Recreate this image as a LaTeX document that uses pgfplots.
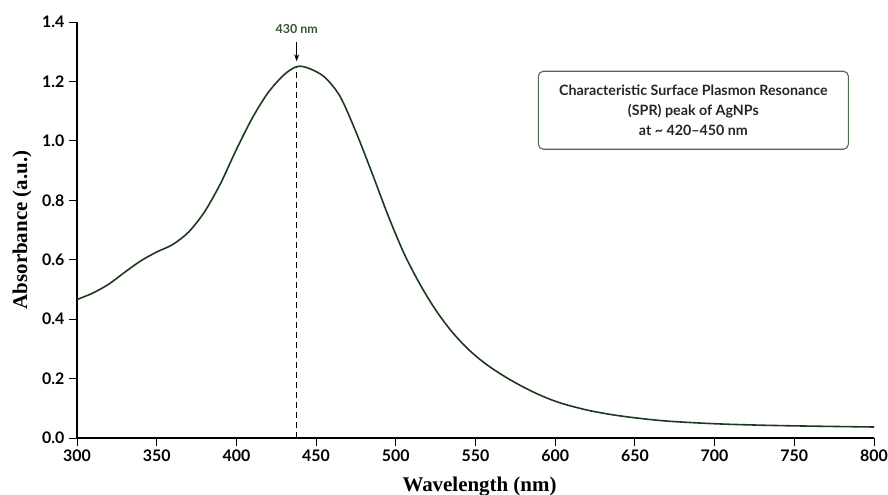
\documentclass[border=0pt]{standalone}
\usepackage{fontspec}
\setmainfont{Liberation Serif}
\newfontfamily\tickfont{Lato}
\usepackage{pgfplots}
\pgfplotsset{compat=1.18}
\usetikzlibrary{arrows.meta}
\definecolor{curveGreen}{HTML}{1B3A1B}
\definecolor{peakGreen}{HTML}{2F5A2F}
\definecolor{boxGreen}{HTML}{4D6B4D}

\pgfplotstableread{
wl abs
300 0.466
310 0.488
320 0.518
330 0.558
340 0.596
350 0.626
360 0.651
370 0.693
380 0.761
390 0.856
400 0.971
410 1.077
420 1.163
430 1.223
438 1.250
445 1.245
455 1.216
465 1.150
475 1.030
485 0.893
495 0.751
505 0.623
515 0.519
525 0.431
535 0.359
545 0.301
555 0.255
565 0.218
575 0.186
585 0.158
595 0.134
605 0.115
620 0.094
635 0.079
650 0.068
670 0.057
700 0.048
730 0.043
760 0.040
800 0.037
}\spectrum

\begin{document}
\begin{tikzpicture}
\begin{axis}[
  scale only axis,
  width=797bp, height=416bp,
  xmin=300, xmax=800, ymin=0, ymax=1.4,
  axis lines=left,
  axis line style={-, line width=1.1pt},
  xtick={300,350,...,800},
  ytick={0,0.2,...,1.4},
  tick align=outside,
  major tick length=8bp,
  tick style={line width=0.9pt, black},
  /pgf/number format/assume math mode=true,
  ticklabel style={font=\tickfont\bfseries\fontsize{16}{19}\selectfont},
  yticklabel style={/pgf/number format/fixed, /pgf/number format/fixed zerofill, /pgf/number format/precision=1, xshift=-1bp},
  xticklabel style={/pgf/number format/1000 sep={}},
  xlabel={\bfseries\fontsize{21}{24}\selectfont Wavelength (nm)},
  ylabel={\bfseries\fontsize{21}{24}\selectfont Absorbance (a.u.)},
  xlabel style={at={([xshift=4bp,yshift=-49bp]axis description cs:0.5,0)}, anchor=center},
  ylabel style={at={([xshift=-55bp]axis description cs:0,0.5)}, anchor=center},
  clip=false,
]
\addplot[color=curveGreen, line width=1.6pt, smooth, tension=0.5] table[x=wl, y=abs] {\spectrum};
\draw[line width=0.9pt, dash pattern=on 6bp off 4bp] (axis cs:437.8,0) -- (axis cs:437.8,1.25);
\draw[-{Stealth[length=7bp,width=5bp]}, line width=0.9pt] (axis cs:437.8,1.334) -- (axis cs:437.8,1.268);
\node[font=\tickfont\bfseries\fontsize{12.5}{14}\selectfont, text=peakGreen] at (axis cs:437.8,1.375) {430 nm};
\node[draw=boxGreen, line width=1.1pt, rounded corners=5bp, minimum width=310bp, minimum height=78bp,
      align=center, font=\tickfont\bfseries\fontsize{14.3}{20.5}\selectfont, text=black!85]
  at (axis cs:686.7,1.103) {Characteristic Surface Plasmon Resonance\\(SPR) peak of AgNPs\\at \textasciitilde{} 420\textendash 450 nm};
\end{axis}
\pgfresetboundingbox
\path (-77bp,-57bp) rectangle (811bp,438bp);
\end{tikzpicture}
\end{document}
